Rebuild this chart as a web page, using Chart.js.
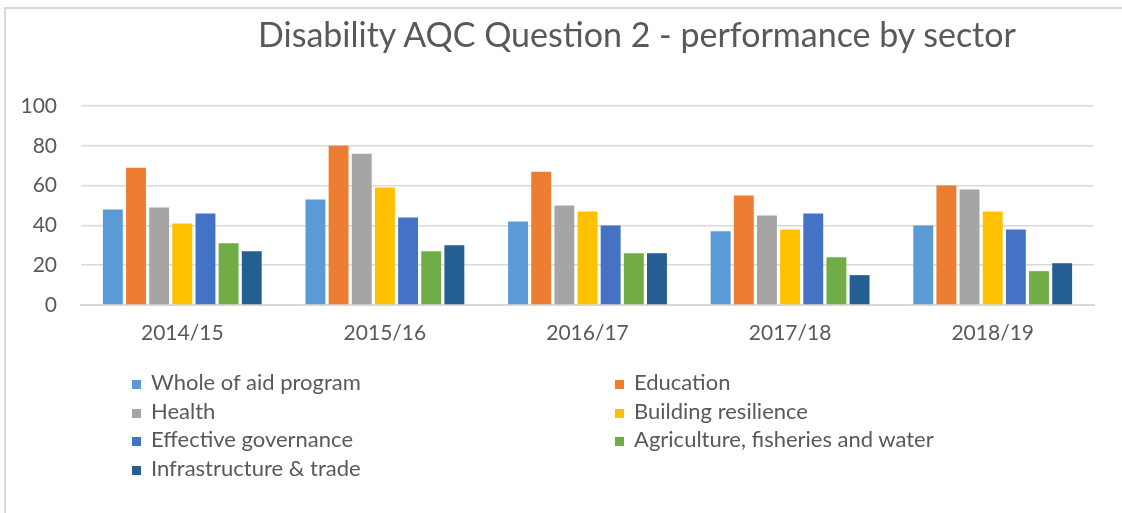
<!DOCTYPE html>
<html>
<head>
<meta charset="utf-8">
<script src="https://cdn.jsdelivr.net/npm/chart.js@4/dist/chart.umd.min.js"></script>
<style>
  body { margin: 0; background: #fff; font-family: Lato, sans-serif; }
  #wrap { position: relative; width: 1122px; height: 513px; overflow: hidden; }
  #frame { position: absolute; left: 4px; top: 7px; width: 1130px; height: 520px; border: 2px solid #d9d9d9; box-sizing: border-box; }
  #title { position: absolute; left: 258px; top: 13px; font-size: 34px; color: #595959; white-space: nowrap; }
  #chartBox { position: absolute; left: 0; top: 0; width: 1122px; height: 513px; }
  .leg { position: absolute; font-size: 22px; color: #595959; white-space: nowrap; line-height: 24px; }
  .leg span { display: inline-block; width: 9px; height: 9px; margin-right: 10px; vertical-align: 1px; }
</style>
</head>
<body>
<div id="wrap">
  <div id="frame"></div>
  <div id="chartBox"><canvas id="chart"></canvas></div>
  <div id="title">Disability AQC Question 2 - performance by sector</div>
  <div id="legend"></div>
</div>
<script>
// categories on the x axis
const years = ["2014/15", "2015/16", "2016/17", "2017/18", "2018/19"];

// one array per sector
const wholeOfAid = [48, 53, 42, 37, 40];
const education = [69, 80, 67, 55, 60];
const health = [49, 76, 50, 45, 58];
const resilience = [41, 59, 47, 38, 47];
const governance = [46, 44, 40, 46, 38];
const agriculture = [31, 27, 26, 24, 17];
const infrastructure = [27, 30, 26, 15, 21];

const yTicks = [0, 20, 40, 60, 80, 100];

const series = [
    { label: "Whole of aid program", data: wholeOfAid, color: "#5B9BD5" },
    { label: "Education", data: education, color: "#ED7D31" },
    { label: "Health", data: health, color: "#A5A5A5" },
    { label: "Building resilience", data: resilience, color: "#FFC000" },
    { label: "Effective governance", data: governance, color: "#4472C4" },
    { label: "Agriculture, fisheries and water", data: agriculture, color: "#70AD47" },
    { label: "Infrastructure & trade", data: infrastructure, color: "#255E91" },
];

// legend is two columns, filled row by row
const legend = document.querySelector("#legend");
series.forEach((s, i) => {
    const item = document.createElement("div");
    item.className = "leg";
    item.style.left = (i % 2 === 0 ? 132 : 615) + "px";
    item.style.top = (370 + Math.floor(i / 2) * 28.7) + "px";
    item.innerHTML = `<span style="background:${s.color}"></span>${s.label}`;
    legend.appendChild(item);
});

const grey = "#595959";

new Chart(document.querySelector("#chart"), {
    type: "bar",
    data: {
        labels: years,
        datasets: series.map((s) => ({
            label: s.label,
            data: s.data,
            backgroundColor: s.color,
            categoryPercentage: 0.8,
            barPercentage: 0.86,
        })),
    },
    options: {
        responsive: true,
        maintainAspectRatio: false,
        animation: false,
        layout: { padding: { top: 106, right: 28, bottom: 168, left: 0 } },
        plugins: {
            legend: { display: false },
            title: { display: false },
            tooltip: { enabled: false },
        },
        scales: {
            x: {
                grid: { display: false, drawTicks: false },
                border: { color: "#d9d9d9", width: 2 },
                ticks: { color: grey, font: { family: "Lato", size: 21 }, padding: 16 },
                afterFit: (scale) => { scale.height = 40; },
            },
            y: {
                min: 0,
                max: 100,
                afterBuildTicks: (scale) => { scale.ticks = yTicks.map((v) => ({ value: v })); },
                grid: { color: "#d9d9d9", lineWidth: 1.5, drawTicks: false },
                border: { display: false },
                ticks: { color: grey, font: { family: "Lato", size: 21 }, padding: 24 },
                afterFit: (scale) => { scale.width = 81; },
            },
        },
    },
});
</script>
</body>
</html>
